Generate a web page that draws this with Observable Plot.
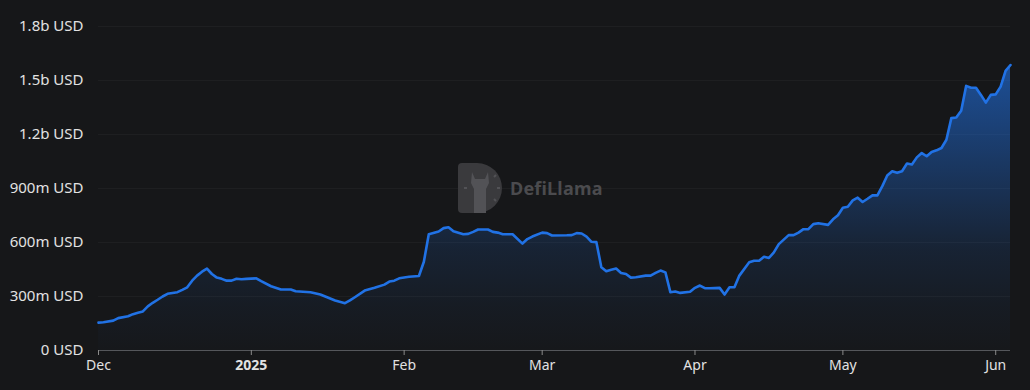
<!DOCTYPE html>
<html><head><meta charset="utf-8">
<script src="https://cdn.jsdelivr.net/npm/d3@7"></script>
<script src="https://cdn.jsdelivr.net/npm/@observablehq/plot@0.6"></script>
<style>
html,body{margin:0;padding:0;background:#161719;}
#wrap{position:relative;width:1030px;height:390px;overflow:hidden;}
#wm{position:absolute;left:458px;top:163px;display:flex;align-items:center;pointer-events:none;}
#wm span{font-family:'Noto Sans',sans-serif;font-weight:bold;font-size:18px;color:#4b4b4e;margin-left:8px;letter-spacing:0.2px;}
</style></head><body>
<div id="wrap"><div id="chart"></div>
<div id="wm"><svg width="44" height="50" viewBox="0 0 44 50"><path d="M4 0H19A25 25 0 0 1 19 50H4Q0 50 0 46V4Q0 0 4 0Z" fill="#3a3a3d"/><path d="M14 9L17 16H27L30 9L31 20L28 26V50H16V26L13 20Z" fill="#525256"/><g stroke="#525256" stroke-width="2"><line x1="36" y1="14" x2="38" y2="12"/><line x1="39" y1="25" x2="42" y2="25"/><line x1="36" y1="36" x2="38" y2="38"/><line x1="6" y1="25" x2="9" y2="25"/></g></svg><span>DefiLlama</span></div>
</div>
<script>
const dates = ["2024-12-01","2024-12-02","2024-12-04","2024-12-05","2024-12-07","2024-12-08","2024-12-09","2024-12-10","2024-12-11","2024-12-12","2024-12-13","2024-12-14","2024-12-15","2024-12-17","2024-12-18","2024-12-19","2024-12-20","2024-12-21","2024-12-22","2024-12-23","2024-12-24","2024-12-25","2024-12-26","2024-12-27","2024-12-28","2024-12-29","2024-12-30","2024-12-31","2025-01-02","2025-01-03","2025-01-05","2025-01-07","2025-01-09","2025-01-10","2025-01-13","2025-01-15","2025-01-16","2025-01-17","2025-01-18","2025-01-20","2025-01-21","2025-01-22","2025-01-24","2025-01-26","2025-01-28","2025-01-29","2025-01-30","2025-01-31","2025-02-02","2025-02-04","2025-02-05","2025-02-06","2025-02-08","2025-02-09","2025-02-10","2025-02-11","2025-02-13","2025-02-14","2025-02-15","2025-02-16","2025-02-18","2025-02-19","2025-02-20","2025-02-21","2025-02-23","2025-02-25","2025-02-26","2025-02-27","2025-03-01","2025-03-02","2025-03-03","2025-03-06","2025-03-07","2025-03-08","2025-03-09","2025-03-10","2025-03-11","2025-03-12","2025-03-13","2025-03-14","2025-03-15","2025-03-16","2025-03-17","2025-03-18","2025-03-19","2025-03-20","2025-03-22","2025-03-23","2025-03-24","2025-03-25","2025-03-26","2025-03-27","2025-03-28","2025-03-29","2025-03-31","2025-04-01","2025-04-02","2025-04-03","2025-04-04","2025-04-06","2025-04-07","2025-04-08","2025-04-09","2025-04-10","2025-04-12","2025-04-13","2025-04-14","2025-04-15","2025-04-16","2025-04-17","2025-04-18","2025-04-20","2025-04-21","2025-04-22","2025-04-23","2025-04-24","2025-04-25","2025-04-26","2025-04-28","2025-04-29","2025-04-30","2025-05-01","2025-05-02","2025-05-03","2025-05-04","2025-05-05","2025-05-06","2025-05-07","2025-05-08","2025-05-09","2025-05-10","2025-05-11","2025-05-12","2025-05-13","2025-05-14","2025-05-15","2025-05-16","2025-05-17","2025-05-18","2025-05-19","2025-05-20","2025-05-21","2025-05-22","2025-05-23","2025-05-24","2025-05-25","2025-05-26","2025-05-27","2025-05-28","2025-05-29","2025-05-30","2025-05-31","2025-06-01","2025-06-02","2025-06-03","2025-06-04"];
const tvlMillions = [155,157,166,180,190,202,210,217,245,265,282,300,315,324,337,351,388,416,438,455,425,405,398,388,388,399,396,398,401,385,357,339,339,329,324,311,300,289,278,263,278,296,333,348,366,383,388,401,410,414,493,646,661,680,685,663,646,648,659,672,672,659,655,646,646,594,619,633,655,652,639,640,641,652,650,633,604,602,462,440,449,455,431,425,405,407,416,416,431,444,434,324,328,320,326,348,361,346,346,348,311,351,351,416,490,499,499,521,514,545,591,641,641,655,674,674,702,707,698,729,751,793,799,834,849,825,843,862,862,913,972,996,987,996,1039,1033,1073,1097,1079,1103,1112,1125,1171,1291,1294,1332,1470,1460,1460,1420,1377,1420,1423,1466,1554,1586];
const yTicks = [0,300,600,900,1200,1500,1800];
const xTickDates = ["2024-12-01","2025-01-01","2025-02-01","2025-03-01","2025-04-01","2025-05-01","2025-06-01"];
const xTickLabels = ["Dec","2025","Feb","Mar","Apr","May","Jun"];
const xDomain = ["2024-12-01","2025-06-04"];

const data = dates.map((d,i)=>({date:new Date(d), tvl:tvlMillions[i]}));
const labelMap = new Map(xTickDates.map((d,i)=>[+new Date(d), xTickLabels[i]]));
const fmtY = v => v===0 ? "0 USD" : v>=1000 ? (v/1000)+"b USD" : v+"m USD";

const plot = Plot.plot({
  width:1030, height:390,
  marginLeft:98, marginRight:20, marginTop:26, marginBottom:40,
  style:{background:"#161719", color:"#e2e2e2", fontFamily:"'Noto Sans', sans-serif", fontSize:"13px"},
  x:{type:"utc", domain:xDomain.map(d=>new Date(d))},
  y:{domain:[0,1800]},
  marks:[
    Plot.gridY(yTicks.filter(v=>v>0), {stroke:"#ffffff", strokeOpacity:0.035}),
    Plot.areaY(data, {x:"date", y:"tvl", fill:"url(#tvlGrad)"}),
    Plot.lineY(data, {x:"date", y:"tvl", stroke:"#2172e5", strokeWidth:2.6}),
    Plot.ruleY([0], {stroke:"#55575b"}),
    Plot.axisY({ticks:yTicks, tickFormat:fmtY, tickSize:0, tickPadding:15, label:null, fontSize:15}),
    Plot.axisX({ticks:xTickDates.map(d=>new Date(d)), tickFormat:d=>labelMap.get(+d), tickSize:5, tickPadding:5, label:null, stroke:"#8a8a8a", fontSize:14})
  ]
});
const svg = d3.select(plot);
const defs = svg.insert("defs", ":first-child");
const g = defs.append("linearGradient").attr("id","tvlGrad").attr("x1",0).attr("y1",0).attr("x2",0).attr("y2",1);
[[0,0.62],[0.2,0.47],[0.45,0.28],[0.65,0.13],[0.85,0.05],[1,0.01]].forEach(([o,a])=>
  g.append("stop").attr("offset",o).attr("stop-color","#2172e5").attr("stop-opacity",a));
svg.selectAll("text").filter(function(){return this.textContent==="2025";}).attr("font-weight","bold");
document.getElementById("chart").appendChild(plot);
</script>
</body></html>
